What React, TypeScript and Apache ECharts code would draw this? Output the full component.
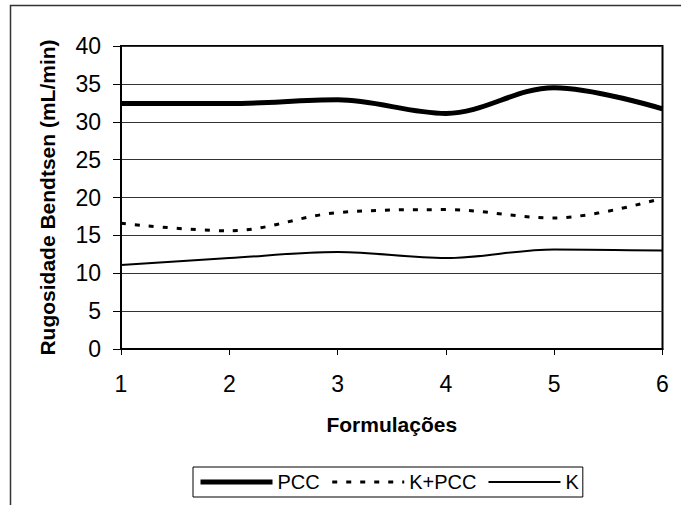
import React, { useEffect, useRef } from "react";
import * as echarts from "echarts";

const categories = ["1", "2", "3", "4", "5", "6"];
const pccValues = [32.4, 32.4, 32.9, 31.1, 34.5, 31.7];
const kpccValues = [16.6, 15.6, 18.0, 18.4, 17.3, 19.9];
const kValues = [11.1, 12.0, 12.8, 12.0, 13.15, 13.0];
const seriesNames = ["PCC", "K+PCC", "K"];
const yTicks = { min: 0, max: 40, interval: 5 };
const xTitle = "Formulações";
const yTitle = "Rugosidade Bendtsen (mL/min)";

const FONT = "'Liberation Sans', Arial, sans-serif";
const hiddenSymbol = { color: "rgba(0,0,0,0)", borderColor: "rgba(0,0,0,0)", borderWidth: 0, opacity: 0 };

export default function App() {
  const ref = useRef<HTMLDivElement>(null);
  useEffect(() => {
    if (!ref.current) return;
    const chart = echarts.init(ref.current, undefined, { renderer: "svg" });
    chart.setOption({
      animation: false,
      backgroundColor: "#fff",
      textStyle: { fontFamily: FONT, color: "#000" },
      graphic: [
        {
          type: "rect",
          z: -1,
          shape: { x: 10.5, y: 5.5, width: 700, height: 530 },
          style: { fill: "none", stroke: "#333", lineWidth: 1.5 },
        },
      ],
      grid: {
        left: 121,
        top: 46,
        right: 18.5,
        bottom: 156,
        show: true,
        borderColor: "#000",
        borderWidth: 2,
        backgroundColor: "transparent",
      },
      legend: {
        left: 193,
        top: 467,
        orient: "horizontal",
        padding: [5, 4, 5, 5],
        borderColor: "#000",
        borderWidth: 1,
        itemWidth: 72,
        itemHeight: 14,
        itemGap: 11,
        selectedMode: false,
        textStyle: { fontFamily: FONT, fontSize: 20, color: "#000" },
        data: [
          { name: seriesNames[0], itemStyle: hiddenSymbol, lineStyle: { width: 5, color: "#000" } },
          { name: seriesNames[1], itemStyle: hiddenSymbol, lineStyle: { width: 3, color: "#000", type: [5, 9] } },
          { name: seriesNames[2], itemStyle: hiddenSymbol, lineStyle: { width: 2, color: "#000" } },
        ],
      },
      xAxis: {
        type: "category",
        data: categories,
        boundaryGap: false,
        name: xTitle,
        nameLocation: "middle",
        nameGap: 65,
        nameTextStyle: { fontFamily: FONT, fontSize: 21, fontWeight: "bold", color: "#000" },
        axisLine: { show: true, lineStyle: { color: "#000", width: 2 } },
        axisTick: { show: true, alignWithLabel: true, length: 6, lineStyle: { color: "#000", width: 1 } },
        axisLabel: { fontFamily: FONT, fontSize: 23, color: "#000", margin: 23 },
        splitLine: { show: false },
      },
      yAxis: {
        type: "value",
        min: yTicks.min,
        max: yTicks.max,
        interval: yTicks.interval,
        name: yTitle,
        nameLocation: "middle",
        nameGap: 63,
        nameTextStyle: { fontFamily: FONT, fontSize: 21, fontWeight: "bold", color: "#000" },
        axisLine: { show: true, lineStyle: { color: "#000", width: 2 } },
        axisTick: { show: true, length: 8, lineStyle: { color: "#000", width: 1 } },
        axisLabel: { fontFamily: FONT, fontSize: 23, color: "#000", margin: 20 },
        splitLine: { show: true, lineStyle: { color: "#333", width: 1 } },
      },
      series: [
        {
          name: seriesNames[0],
          type: "line",
          data: pccValues,
          smooth: 0.35,
          symbol: "none",
          lineStyle: { color: "#000", width: 5 },
          itemStyle: { color: "#000" },
        },
        {
          name: seriesNames[1],
          type: "line",
          data: kpccValues,
          smooth: 0.35,
          symbol: "none",
          lineStyle: { color: "#000", width: 3, type: [5, 9] },
          itemStyle: { color: "#000" },
        },
        {
          name: seriesNames[2],
          type: "line",
          data: kValues,
          smooth: 0.35,
          symbol: "none",
          lineStyle: { color: "#000", width: 2 },
          itemStyle: { color: "#000" },
        },
      ],
    });
    return () => chart.dispose();
  }, []);
  return (
    <div
      ref={ref}
      style={{ position: "fixed", left: 0, top: 0, width: 681, height: 505 }}
    />
  );
}
